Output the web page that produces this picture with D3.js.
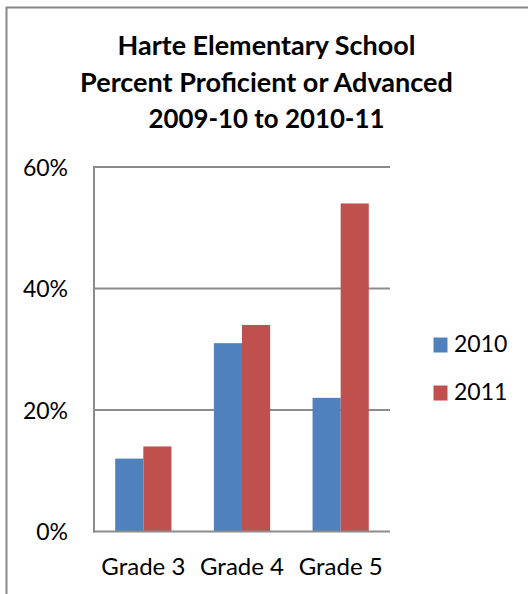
<!DOCTYPE html>
<html><head><meta charset="utf-8">
<script src="https://cdn.jsdelivr.net/npm/d3@7"></script>
<style>html,body{margin:0;padding:0;background:#fff;overflow:hidden}</style>
</head><body>
<svg id="c" width="528" height="594"></svg>
<script>
const categories = ["Grade 3", "Grade 4", "Grade 5"];
const seriesNames = ["2010", "2011"];
const values2010 = [0.12, 0.31, 0.22];
const values2011 = [0.14, 0.34, 0.54];
const yTicks = [0, 0.2, 0.4, 0.6];
const titleLines = ["Harte Elementary School", "Percent Proficient or Advanced", "2009-10 to 2010-11"];
const colors = ["#4F81BD", "#C0504D"];

const svg = d3.select("#c");
const FONT = "Lato, 'Open Sans', sans-serif";

// chart border (only top and left visible in the crop)
svg.append("rect").attr("x", 6.5).attr("y", 7.5).attr("width", 700).attr("height", 700)
  .attr("fill", "#fff").attr("stroke", "#888").attr("stroke-width", 2);

function fit(sel, target) {
  const w = sel.node().getComputedTextLength();
  const fs = parseFloat(sel.attr("font-size"));
  sel.attr("font-size", fs * target / w);
}

// title
const titleBase = [55, 91.5, 128];
const titleW = [298, 373, 236];
titleLines.forEach((t, i) => {
  const s = svg.append("text").attr("x", 266.5).attr("y", titleBase[i])
    .attr("text-anchor", "middle").attr("font-family", FONT).attr("font-weight", "bold")
    .attr("font-size", 24).attr("fill", "#000").text(t);
  fit(s, titleW[i]);
});

const plot = {left: 94, right: 390, top: 167, bottom: 531.5};
const y = d3.scaleLinear().domain([0, 0.6]).range([plot.bottom, plot.top]);
const x0 = d3.scaleBand().domain(categories).range([plot.left, plot.right]).paddingInner(0.43).paddingOuter(0.215);
const x1 = d3.scaleBand().domain(seriesNames).range([0, x0.bandwidth()]);

// gridlines
svg.append("g").selectAll("line").data(yTicks.filter(d => d > 0)).join("line")
  .attr("x1", plot.left).attr("x2", plot.right)
  .attr("y1", d => y(d)).attr("y2", d => y(d))
  .attr("stroke", "#8c8c8c").attr("stroke-width", 2);

// y tick labels
svg.append("g").selectAll("text").data(yTicks).join("text")
  .attr("x", 68).attr("y", d => y(d) + 8.5)
  .attr("text-anchor", "end").attr("font-family", FONT).attr("font-size", 23)
  .attr("fill", "#000").text(d3.format(".0%"));

// bars
const rows = categories.map((c, i) => ({cat: c, vals: [values2010[i], values2011[i]]}));
const g = svg.append("g");
rows.forEach(r => {
  r.vals.forEach((v, j) => {
    g.append("rect")
      .attr("x", x0(r.cat) + x1(seriesNames[j]))
      .attr("y", y(v)).attr("width", x1.bandwidth()).attr("height", y(0) - y(v))
      .attr("fill", colors[j]);
  });
});

// axes lines
svg.append("line").attr("x1", plot.left).attr("x2", plot.left).attr("y1", plot.top - 1).attr("y2", plot.bottom + 1)
  .attr("stroke", "#8c8c8c").attr("stroke-width", 2);
svg.append("line").attr("x1", plot.left - 1).attr("x2", plot.right).attr("y1", plot.bottom).attr("y2", plot.bottom)
  .attr("stroke", "#8c8c8c").attr("stroke-width", 2);

// category labels
const cl = svg.append("g").selectAll("text").data(categories).join("text")
  .attr("x", d => x0(d) + x0.bandwidth() / 2).attr("y", 575)
  .attr("text-anchor", "middle").attr("font-family", FONT).attr("font-size", 22)
  .attr("fill", "#000").text(d => d);
{
  const w = cl.nodes()[0].getComputedTextLength();
  cl.attr("font-size", 22 * 84 / w);
}

// legend
const legY = [345, 393];
seriesNames.forEach((n, i) => {
  svg.append("rect").attr("x", 433.5).attr("y", legY[i] - 7.5).attr("width", 14).attr("height", 15).attr("fill", colors[i]);
  svg.append("text").attr("x", 454).attr("y", legY[i] + 7)
    .attr("font-family", FONT).attr("font-size", 23).attr("fill", "#000").text(n);
});
</script>
</body></html>
